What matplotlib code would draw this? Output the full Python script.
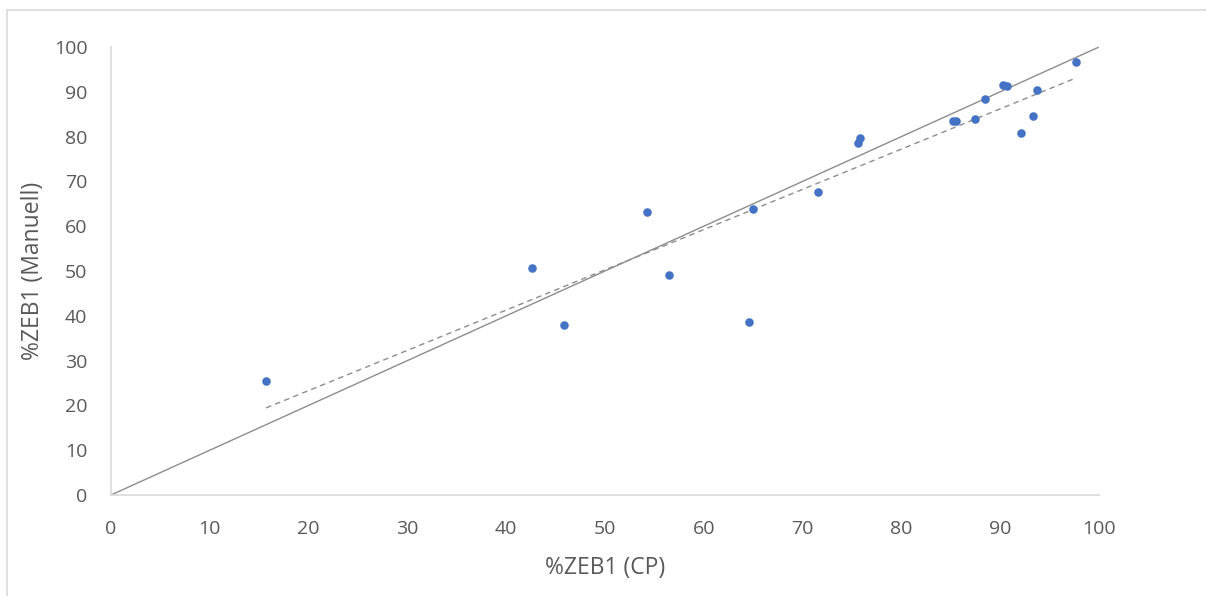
import matplotlib
matplotlib.use("Agg")
import matplotlib.pyplot as plt
import numpy as np
from matplotlib.patches import Rectangle

# %ZEB1 per sample: CP vs manual count
zeb1_cp = [15.7, 42.6, 45.9, 54.3, 56.5, 64.6, 65.0, 71.6, 75.6, 75.8,
           85.2, 85.5, 87.4, 88.5, 90.3, 90.7, 92.1, 93.3, 93.7, 97.7]
zeb1_manual = [25.4, 50.7, 37.9, 63.2, 49.1, 38.6, 63.8, 67.6, 78.6, 79.7,
               83.5, 83.5, 83.9, 88.4, 91.5, 91.3, 80.8, 84.6, 90.4, 96.7]
ticks = [0, 10, 20, 30, 40, 50, 60, 70, 80, 90, 100]

plt.rcParams["font.family"] = ["Open Sans", "DejaVu Sans"]
text_color = "#595959"

fig = plt.figure(figsize=(12.06, 5.96), dpi=100)
ax = fig.add_axes([111 / 1206, 101 / 596, 988 / 1206, 448 / 596])

# light frame around the chart (runs off the right and bottom edges)
fig.patches.append(Rectangle((7 / 1206, -0.05), 1.1, 1.05 - 10 / 596,
                             transform=fig.transFigure, fill=False,
                             edgecolor="#d9d9d9", linewidth=1.2))

# identity line and linear trendline
ax.plot([0, 100], [0, 100], color="#8c8c8c", linewidth=1.0, zorder=1)
slope, intercept = np.polyfit(zeb1_cp, zeb1_manual, 1)
xs = np.array([min(zeb1_cp), max(zeb1_cp)])
ax.plot(xs, slope * xs + intercept, color="#8c8c8c", linewidth=1.0,
        linestyle=(0, (4, 3)), zorder=1)

ax.scatter(zeb1_cp, zeb1_manual, s=38, color="#4472C4", zorder=3, linewidths=0)

ax.set_xlim(0, 100)
ax.set_ylim(0, 100)
ax.set_xticks(ticks)
ax.set_yticks(ticks)
ax.tick_params(length=0, labelsize=14, labelcolor=text_color)
ax.tick_params(axis="x", pad=18)
ax.tick_params(axis="y", pad=17)
for side in ["top", "right"]:
    ax.spines[side].set_visible(False)
for side in ["left", "bottom"]:
    ax.spines[side].set_color("#d9d9d9")
    ax.spines[side].set_linewidth(1.2)

ax.set_xlabel("%ZEB1 (CP)", fontsize=16.5, color=text_color, labelpad=13)
ax.set_ylabel("%ZEB1 (Manuell)", fontsize=16.5, color=text_color, labelpad=6)

fig.savefig("out.png", dpi=100)
